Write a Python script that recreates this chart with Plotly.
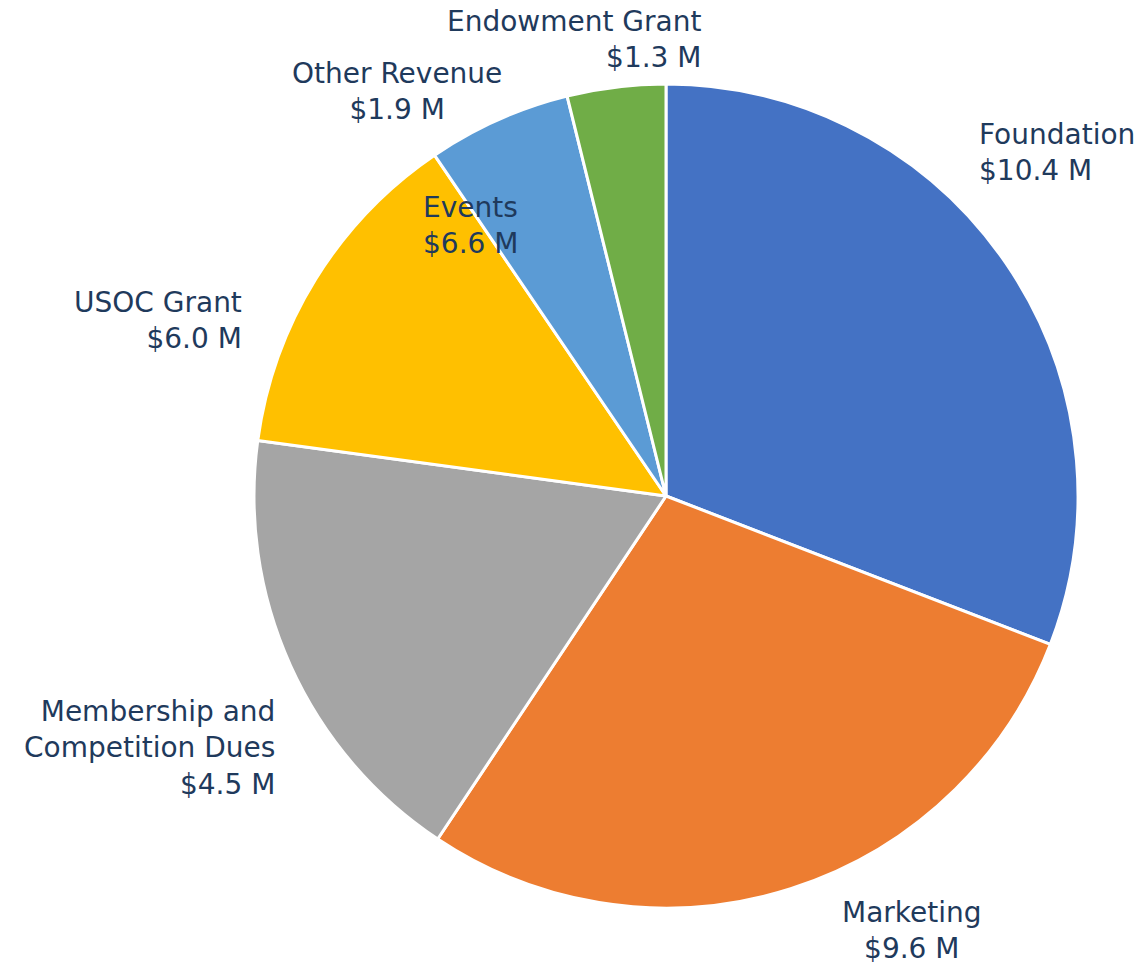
import plotly.graph_objects as go

# slices, clockwise from 12 o'clock
slice_names = ["Foundation", "Marketing", "Membership and Competition Dues",
               "USOC Grant", "Other Revenue", "Endowment Grant"]
slice_values = [10.4, 9.6, 6.0, 4.5, 1.9, 1.3]
slice_colors = ["#4472C4", "#ED7D31", "#A5A5A5", "#FFC000", "#5B9BD5", "#70AD47"]

# data labels as shown on the chart
label_names = ["Foundation", "Marketing", "Membership and<br>Competition Dues",
               "USOC Grant", "Events", "Other Revenue", "Endowment Grant"]
label_amounts = [10.4, 9.6, 4.5, 6.0, 6.6, 1.9, 1.3]

W, H = 1147, 965
OFF = 8  # page body margin shifts the figure
# label placement in pixels: (x, y center, xanchor, align)
label_pos = [
    (977, 152, "left", "left"),
    (912, 930, "center", "center"),
    (277, 748, "right", "right"),
    (244, 320, "right", "right"),
    (421, 225, "left", "left"),
    (397, 91, "center", "center"),
    (703, 40, "right", "right"),
]

cx, cy, r = 666 - OFF, 496 - OFF, 412

fig = go.Figure()
fig.add_trace(go.Pie(
    labels=slice_names,
    values=slice_values,
    sort=False,
    direction="clockwise",
    rotation=0,
    textinfo="none",
    hoverinfo="label+value",
    marker=dict(colors=slice_colors, line=dict(color="white", width=3)),
    domain=dict(x=[(cx - r) / W, (cx + r) / W], y=[1 - (cy + r) / H, 1 - (cy - r) / H]),
    showlegend=False,
))

annotations = []
for name, amt, (px, py, xa, al) in zip(label_names, label_amounts, label_pos):
    annotations.append(dict(
        text=f"{name}<br>${amt:.1f} M",
        x=(px - OFF) / W, y=1 - (py - OFF) / H, xref="paper", yref="paper",
        xanchor=xa, yanchor="middle", align=al, showarrow=False,
        font=dict(family="DejaVu Sans", size=28, color="#1F3A5C"),
    ))

fig.update_layout(
    width=W, height=H,
    margin=dict(l=0, r=0, t=0, b=0),
    paper_bgcolor="white",
    plot_bgcolor="white",
    annotations=annotations,
)

fig.write_html("out.html")
